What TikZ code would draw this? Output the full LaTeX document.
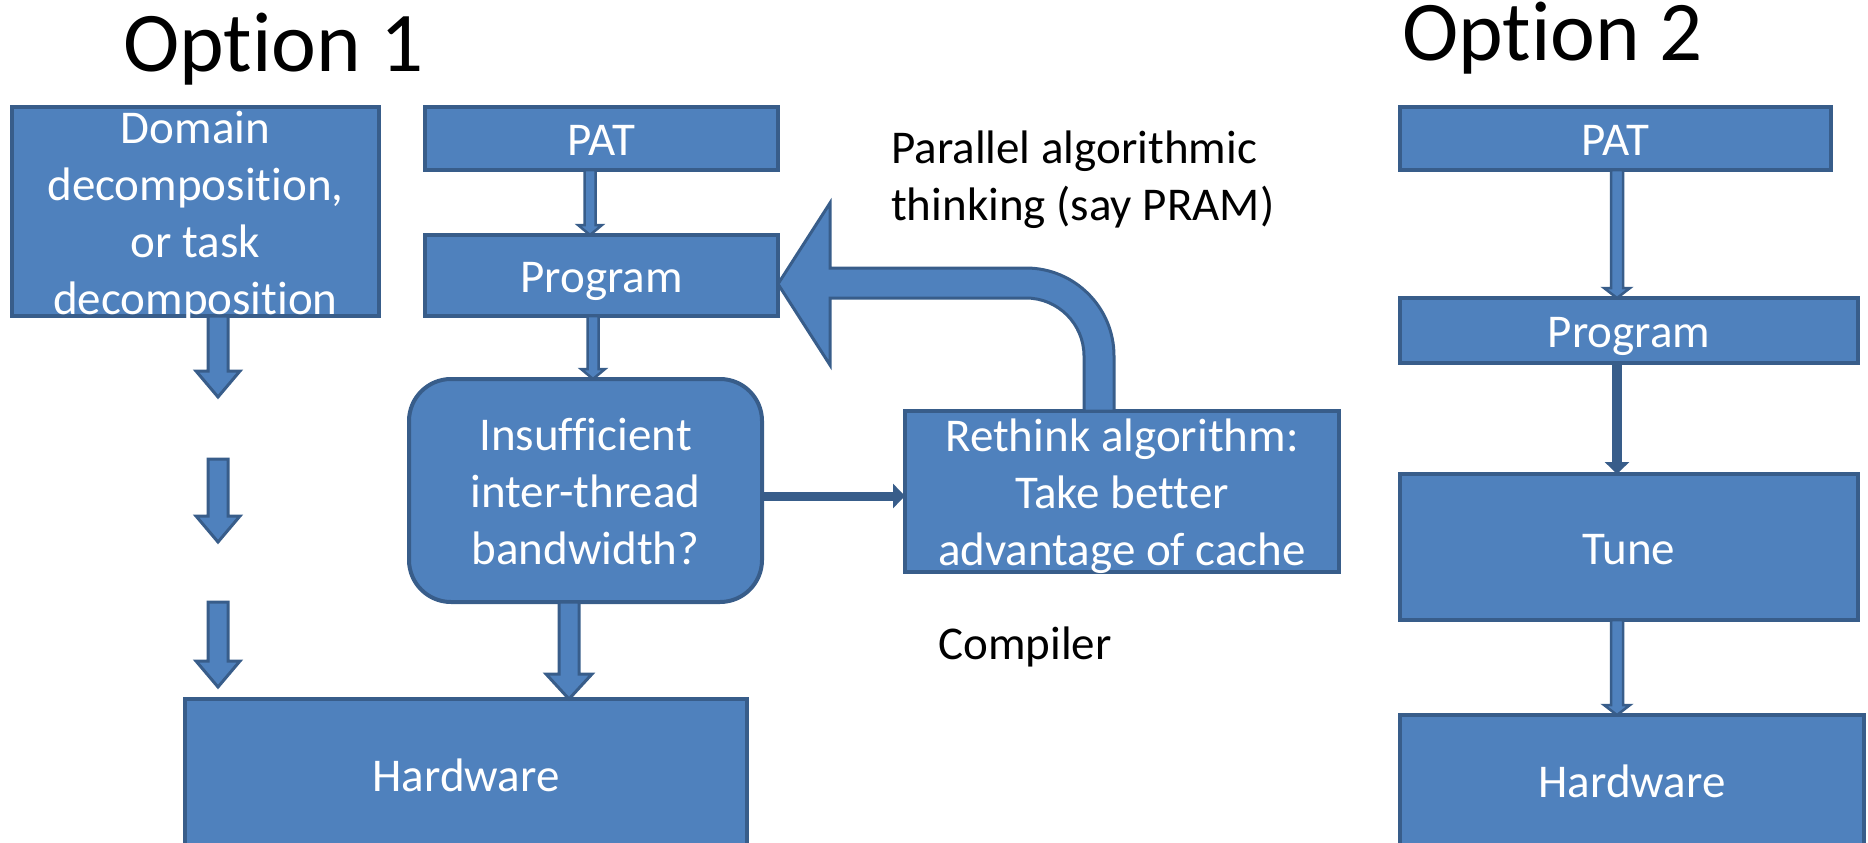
\documentclass[tikz,border=0pt]{standalone}
\usepackage{fontspec}
\setmainfont{Carlito}[Ligatures=NoCommon]
\usetikzlibrary{arrows.meta,calc}

\definecolor{blu}{HTML}{4F81BD}
\definecolor{bdr}{HTML}{385D8A}

\newcommand\boxfont{\fontsize{47pt}{57pt}\selectfont}
\newcommand\ttlfont{\fontsize{85pt}{100pt}\selectfont}
% line strut: ascent part and descent part of one text line
\newcommand\lnstrut{\rule[-11.4pt]{0pt}{57pt}}

% vertical block arrow: style, from, tip, half shaft, half head, head length
\newcommand\blkdown[6]{%
  \path[#1] let \p1=(#2), \p2=(#3) in
    (\x1-#4,\y1) -- (\x1-#4,\y2+#6) -- (\x1-#5,\y2+#6) -- (\x1,\y2)
    -- (\x1+#5,\y2+#6) -- (\x1+#4,\y2+#6) -- (\x1+#4,\y1) -- cycle;}

\tikzset{
  box/.style={draw=bdr, fill=blu, line width=4pt, inner sep=0pt, outer sep=0pt},
  boxtext/.style={text=white, font=\boxfont, align=center, inner sep=0pt},
  blockarrow/.style={fill=blu, draw=bdr, line width=3pt, line join=miter},
  slimarrow/.style={fill=blu, draw=bdr, line width=2.5pt, line join=miter},
  linearrow/.style={draw=bdr, line width=9pt, -{Triangle[width=24pt,length=12pt]}},
  plain/.style={text=black, font=\boxfont, inner sep=0pt, align=left},
  ttl/.style={text=black, font=\ttlfont, inner sep=0pt},
}

\begin{document}
\begin{tikzpicture}[x=1pt,y=-1pt]
\useasboundingbox (0,0) rectangle (1868,843);
\clip (0,0) rectangle (1868,843);

% titles and free text
\node[ttl, anchor=base west] (opt1) at (123,71) {Option 1};
\node[ttl, anchor=base west] (opt2) at (1402,61) {Option 2};
\node[plain, anchor=north west] (note) at (891,118)
  {\lnstrut Parallel algorithmic\\\lnstrut thinking (say PRAM)};
\node[plain, anchor=base west] (comp) at (938,659) {Compiler};

% option 1 boxes
\node[box, minimum width=367pt, minimum height=209pt,
  label={[boxtext]center:{\lnstrut Domain\\\lnstrut decomposition,\\\lnstrut or task\\\lnstrut decomposition}}]
  (dom) at (195.5,211.5) {};
\node[box, minimum width=353pt, minimum height=63pt,
  label={[boxtext]center:{\lnstrut PAT}}] (pat1) at (601.5,138.5) {};
\node[box, minimum width=353pt, minimum height=81pt,
  label={[boxtext]center:{\lnstrut Program}}] (prog1) at (601.5,275.5) {};
\node[box, rounded corners=42pt, minimum width=353pt, minimum height=223pt,
  label={[boxtext]center:{\lnstrut Insufficient\\\lnstrut inter-thread\\\lnstrut bandwidth?}}]
  (insuf) at (585.5,490.5) {};
\node[box, minimum width=434pt, minimum height=161pt,
  label={[boxtext]center:{\lnstrut Rethink algorithm:\\\lnstrut Take better\\\lnstrut advantage of cache}}]
  (rethink) at (1122,491.5) {};
\node[box, minimum width=562pt, minimum height=150pt,
  label={[boxtext]center:{\lnstrut Hardware}}] (hw1) at (466,774) {};

% option 2 boxes
\node[box, minimum width=431pt, minimum height=63pt,
  label={[boxtext]center:{\lnstrut PAT}}] (pat2) at (1615.5,138.5) {};
\node[box, minimum width=458pt, minimum height=65pt,
  label={[boxtext]center:{\lnstrut Program}}] (prog2) at (1629,330.5) {};
\node[box, minimum width=458pt, minimum height=146pt,
  label={[boxtext]center:{\lnstrut Tune}}] (tune) at (1629,547) {};
\node[box, minimum width=464pt, minimum height=130pt,
  label={[boxtext]center:{\lnstrut Hardware}}] (hw2) at (1632,780) {};

% arrow columns and free ends
\coordinate (dcol) at (218,0);
\coordinate (d1) at (218,397);
\coordinate (d2) at (218,459);
\coordinate (d3) at (218,542);
\coordinate (d4) at (218,602);
\coordinate (d5) at (218,687);
\coordinate (c1) at (590,0);
\coordinate (c2) at (593,0);
\coordinate (c3) at (569,0);
\coordinate (c4) at (1617,0);
\coordinate (ry) at (0,496);

% option 1 arrows
\blkdown{blockarrow}{dom.south -| dcol}{d1}{10pt}{22pt}{26pt}
\blkdown{blockarrow}{d2}{d3}{10pt}{22pt}{26pt}
\blkdown{blockarrow}{d4}{d5}{10pt}{22pt}{26pt}
\blkdown{slimarrow}{pat1.south -| c1}{prog1.north -| c1}{5.5pt}{12pt}{10pt}
\blkdown{slimarrow}{prog1.south -| c2}{insuf.north -| c2}{5.5pt}{12pt}{10pt}
\blkdown{blockarrow}{insuf.south -| c3}{hw1.north -| c3}{10pt}{23pt}{25pt}
\draw[linearrow] (insuf.east |- ry) -- (rethink.west |- ry);

% feedback arrow from the rethink box back to the program box
\path[blockarrow]
  (prog1.east |- 0,284) -- (830,203) -- (830,268) -- (1026,268)
  .. controls (1074.6,268) and (1114,307.4) .. (1114,356)
  -- (rethink.north -| 1114,0) -- (rethink.north -| 1084,0) -- (1084,356)
  .. controls (1084,324) and (1058,298) .. (1026,298)
  -- (830,298) -- (830,365) -- cycle;

% option 2 arrows
\blkdown{slimarrow}{pat2.south -| c4}{prog2.north -| c4}{6pt}{13pt}{10pt}
\draw[linearrow, line width=10pt] (prog2.south -| c4) -- (tune.north -| c4);
\blkdown{slimarrow}{tune.south -| c4}{hw2.north -| c4}{6pt}{13pt}{10pt}
\end{tikzpicture}
\end{document}
